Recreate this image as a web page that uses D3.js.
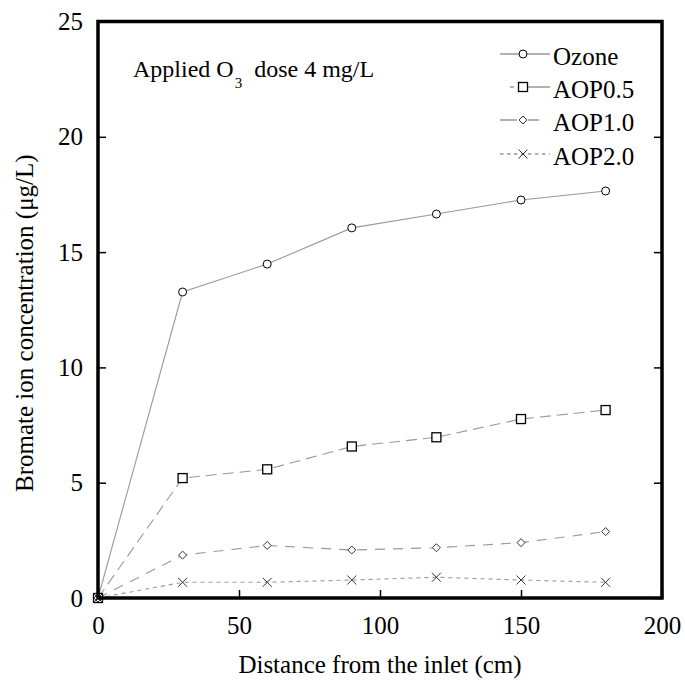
<!DOCTYPE html>
<html><head><meta charset="utf-8">
<script src="https://cdn.jsdelivr.net/npm/d3@7"></script>
<style>body{margin:0;background:#fff}</style>
</head><body>
<svg id="c" width="685" height="682"></svg>
<script>
const distances = [0, 30, 60, 90, 120, 150, 180];
const ozone  = [0, 13.27, 14.48, 16.05, 16.65, 17.26, 17.65];
const aop05  = [0, 5.2, 5.58, 6.57, 6.97, 7.76, 8.15];
const aop10  = [0, 1.86, 2.28, 2.08, 2.18, 2.4, 2.88];
const aop20  = [0, 0.68, 0.68, 0.78, 0.9, 0.78, 0.68];
const seriesNames = ["Ozone", "AOP0.5", "AOP1.0", "AOP2.0"];
const xTicks = [0, 50, 100, 150, 200];
const yTicks = [0, 5, 10, 15, 20, 25];

const svg = d3.select("#c");
const L = 98, R = 662, T = 21.5, B = 598;
const x = d3.scaleLinear().domain([0, 200]).range([L, R]);
const y = d3.scaleLinear().domain([0, 25]).range([B, T]);
const font = "'Liberation Serif', 'Times New Roman', serif";

const series = [
  {name: seriesNames[0], vals: ozone, dash: null, marker: "circle", legDash: null},
  {name: seriesNames[1], vals: aop05, dash: "11,6", marker: "square", legDash: "0,10,4,13,30"},
  {name: seriesNames[2], vals: aop10, dash: "10,8", marker: "diamond", legDash: "17,11,11,100"},
  {name: seriesNames[3], vals: aop20, dash: "4,4", marker: "cross", legDash: "3.5,3.5"}
];

function drawMarker(g, type, cx, cy) {
  const s = g.append("g").attr("transform", `translate(${cx},${cy})`);
  if (type === "circle") s.append("circle").attr("r", 4).attr("fill", "#fff").attr("stroke", "#000").attr("stroke-width", 1);
  else if (type === "square") s.append("rect").attr("x", -4.5).attr("y", -4.5).attr("width", 9).attr("height", 9).attr("fill", "#fff").attr("stroke", "#000").attr("stroke-width", 1.3);
  else if (type === "diamond") s.append("path").attr("d", "M0,-4L4,0L0,4L-4,0Z").attr("fill", "#fff").attr("stroke", "#333").attr("stroke-width", 1);
  else s.append("path").attr("d", "M-4.5,-4.5L4.5,4.5M-4.5,4.5L4.5,-4.5").attr("stroke", "#333").attr("stroke-width", 1);
}

const line = d3.line().x((d, i) => x(distances[i])).y(d => y(d));
series.forEach(s => {
  svg.append("path").datum(s.vals).attr("d", line).attr("fill", "none")
    .attr("stroke", "#999").attr("stroke-width", 1.1)
    .attr("stroke-dasharray", s.dash);
});
series.forEach(s => {
  const g = svg.append("g");
  s.vals.forEach((v, i) => drawMarker(g, s.marker, x(distances[i]), y(v)));
});

// axes with inward ticks
svg.append("g").attr("transform", `translate(0,${B})`)
  .call(d3.axisBottom(x).tickValues(xTicks).tickSize(-8).tickPadding(18).tickFormat(d3.format("d")))
  .call(g => { g.select(".domain").remove(); g.selectAll("text").attr("font-family", font).attr("font-size", 25).attr("fill", "#000"); g.selectAll("line").attr("stroke-width", 1.5); });
svg.append("g").attr("transform", `translate(${L},0)`)
  .call(d3.axisLeft(y).tickValues(yTicks).tickSize(-8).tickPadding(15).tickFormat(d3.format("d")))
  .call(g => { g.select(".domain").remove(); g.selectAll("text").attr("font-family", font).attr("font-size", 25).attr("fill", "#000"); g.selectAll("line").attr("stroke-width", 1.5); });
svg.append("g").attr("transform", `translate(${R},0)`)
  .call(d3.axisRight(y).tickValues(yTicks).tickSize(-8).tickFormat(""))
  .call(g => { g.select(".domain").remove(); g.selectAll("line").attr("stroke-width", 1.5); });

svg.append("rect").attr("x", L).attr("y", T).attr("width", R - L).attr("height", B - T)
  .attr("fill", "none").attr("stroke", "#000").attr("stroke-width", 3.5);

// axis titles
svg.append("text").attr("x", (L + R) / 2).attr("y", 673).attr("text-anchor", "middle")
  .attr("font-family", font).attr("font-size", 25).text("Distance from the inlet (cm)");
svg.append("text").attr("transform", `translate(33,492) rotate(-90)`).attr("text-anchor", "start")
  .attr("font-family", font).attr("font-size", 25).text("Bromate ion concentration (μg/L)");

// annotation
const ann = svg.append("text").attr("x", 133).attr("y", 77).attr("font-family", font).attr("font-size", 24);
ann.append("tspan").text("Applied O");
ann.append("tspan").attr("font-size", 15).attr("dy", 11).attr("dx", 1).text("3");
ann.append("tspan").attr("dy", -11).text("\u00a0 dose 4 mg/L");

// legend
const legBase = [65, 98, 131, 165];
series.forEach((s, i) => {
  const ly = legBase[i] - 11;
  svg.append("line").attr("x1", 500).attr("x2", 550).attr("y1", ly).attr("y2", ly)
    .attr("stroke", "#666").attr("stroke-width", 1.2).attr("stroke-dasharray", s.legDash);
  drawMarker(svg, s.marker, 523, ly);
  svg.append("text").attr("x", 553).attr("y", legBase[i]).attr("font-family", font).attr("font-size", 25).text(s.name);
});
</script>
</body></html>
